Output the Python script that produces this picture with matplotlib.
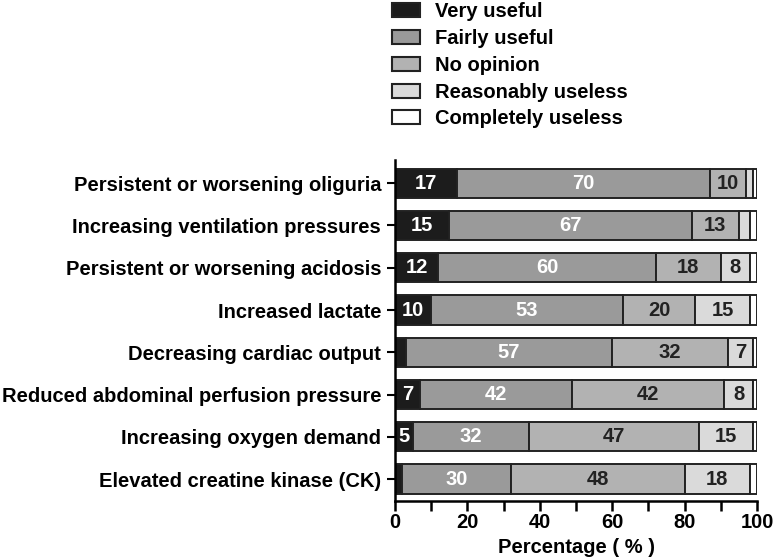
import matplotlib
matplotlib.use("Agg")
import matplotlib.pyplot as plt
from matplotlib.patches import Patch
from matplotlib.ticker import MultipleLocator
import numpy as np

plt.rcParams['font.family'] = ['Liberation Sans', 'DejaVu Sans']
plt.rcParams['font.weight'] = 'bold'

categories = [
    "Persistent or worsening oliguria",
    "Increasing ventilation pressures",
    "Persistent or worsening acidosis",
    "Increased lactate",
    "Decreasing cardiac output",
    "Reduced abdominal perfusion pressure",
    "Increasing oxygen demand",
    "Elevated creatine kinase (CK)",
]
series_names = ["Very useful", "Fairly useful", "No opinion",
                "Reasonably useless", "Completely useless"]
very_useful = [17, 15, 12, 10, 3, 7, 5, 2]
fairly_useful = [70, 67, 60, 53, 57, 42, 32, 30]
no_opinion = [10, 13, 18, 20, 32, 42, 47, 48]
reasonably_useless = [2, 3, 8, 15, 7, 8, 15, 18]
completely_useless = [1, 2, 2, 2, 1, 1, 1, 2]
# which segment values are printed on the bars
label_min = [5, 0, 10, 7, 100]

colors = ["#1c1c1c", "#9a9a9a", "#b2b2b2", "#dadada", "#ffffff"]
text_colors = ["white", "white", "#222222", "#222222", "#222222"]

series = [very_useful, fairly_useful, no_opinion, reasonably_useless, completely_useless]

FS = 14.5

fig = plt.figure(figsize=(7.74, 5.59), dpi=100)
ax = fig.add_axes([395/774, 1-501/559, (757-395)/774, (501-160)/559])

y = np.arange(len(categories))
left = np.zeros(len(categories))
for vals, col, tcol, lm in zip(series, colors, text_colors, label_min):
    vals = np.array(vals, dtype=float)
    ax.barh(y, vals, left=left, height=0.69, color=col, edgecolor="#222222",
            linewidth=1.4)
    for yi, (l, v) in enumerate(zip(left, vals)):
        if v >= lm:
            ax.text(l + v/2, yi, f"{int(v)}", ha="center", va="center",
                    color=tcol, fontsize=14.5, fontweight="bold")
    left += vals

ax.set_yticks(y)
ax.set_yticklabels(categories, fontsize=FS, fontweight="bold")
ax.set_ylim(len(categories) - 0.48, -0.55)
ax.set_xlim(0, 100)
ax.xaxis.set_major_locator(MultipleLocator(20))
ax.xaxis.set_minor_locator(MultipleLocator(10))
ax.tick_params(axis="x", which="both", length=7, width=1.8, direction="out",
               labelsize=FS, pad=2)
ax.tick_params(axis="y", length=6, width=1.5, direction="out", pad=4)
for lbl in ax.get_xticklabels():
    lbl.set_fontweight("bold")
ax.set_xlabel("Percentage ( % )", fontsize=FS, fontweight="bold", labelpad=4)
ax.spines["top"].set_visible(False)
ax.spines["right"].set_visible(False)
ax.spines["left"].set_linewidth(1.8)
ax.spines["bottom"].set_linewidth(1.8)

handles = [Patch(facecolor=c, edgecolor="#222222", linewidth=1.5) for c in colors]
fig.legend(handles, series_names, loc="upper left",
           bbox_to_anchor=(384/774, 1.0 + 6/559), frameon=False,
           prop={"size": FS, "weight": "bold"},
           handlelength=1.4, handleheight=0.7, labelspacing=0.39,
           handletextpad=0.75, borderaxespad=0)

fig.savefig("out.png", dpi=100)
